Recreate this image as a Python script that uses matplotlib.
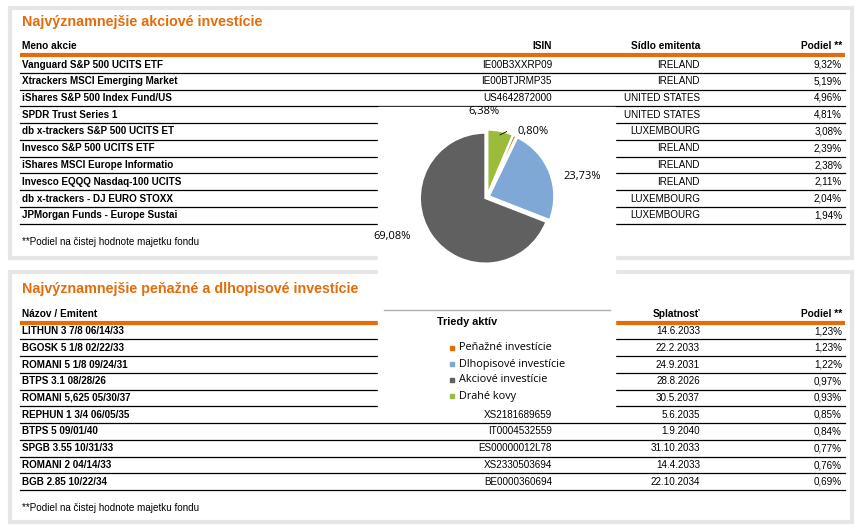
import matplotlib
matplotlib.use("Agg")
import matplotlib.pyplot as plt
from matplotlib.patches import Rectangle

plt.rcParams['font.family'] = ['Liberation Sans Narrow', 'Liberation Sans', 'DejaVu Sans']

ORANGE = "#e46c0a"

# top table
stock_names = ["Vanguard S&P 500 UCITS ETF", "Xtrackers MSCI Emerging Market", "iShares S&P 500 Index Fund/US",
               "SPDR Trust Series 1", "db x-trackers S&P 500 UCITS ET", "Invesco S&P 500 UCITS ETF",
               "iShares MSCI Europe Informatio", "Invesco EQQQ Nasdaq-100 UCITS", "db x-trackers - DJ EURO STOXX",
               "JPMorgan Funds - Europe Sustai"]
stock_isin = ["IE00B3XXRP09", "IE00BTJRMP35", "US4642872000", "", "", "", "", "", "", ""]
stock_seat = ["IRELAND", "IRELAND", "UNITED STATES", "UNITED STATES", "LUXEMBOURG", "IRELAND",
              "IRELAND", "IRELAND", "LUXEMBOURG", "LUXEMBOURG"]
stock_share = ["9,32%", "5,19%", "4,96%", "4,81%", "3,08%", "2,39%", "2,38%", "2,11%", "2,04%", "1,94%"]

# bottom table
bond_names = ["LITHUN 3 7/8 06/14/33", "BGOSK 5 1/8 02/22/33", "ROMANI 5 1/8 09/24/31", "BTPS 3.1 08/28/26",
              "ROMANI 5,625 05/30/37", "REPHUN 1 3/4 06/05/35", "BTPS 5 09/01/40", "SPGB 3.55 10/31/33",
              "ROMANI 2 04/14/33", "BGB 2.85 10/22/34"]
bond_isin = ["", "", "", "", "", "XS2181689659", "IT0004532559", "ES00000012L78", "XS2330503694", "BE0000360694"]
bond_maturity = ["14.6.2033", "22.2.2033", "24.9.2031", "28.8.2026", "30.5.2037", "5.6.2035",
                 "1.9.2040", "31.10.2033", "14.4.2033", "22.10.2034"]
bond_share = ["1,23%", "1,23%", "1,22%", "0,97%", "0,93%", "0,85%", "0,84%", "0,77%", "0,76%", "0,69%"]

# pie (clockwise from top)
asset_labels = ["Drahé kovy", "Peňažné investície", "Dlhopisové investície", "Akciové investície"]
asset_values = [6.38, 0.80, 23.73, 69.08]
asset_colors = ["#9bbb3b", ORANGE, "#7fa8d6", "#606060"]
legend_order = [1, 2, 3, 0]

fig = plt.figure(figsize=(8.62, 5.29), dpi=100)
ax = fig.add_axes([0, 0, 1, 1])
ax.set_xlim(0, 862)
ax.set_ylim(529, 0)
ax.axis("off")

# panel frames
for y0, y1 in [(8, 258), (272, 522)]:
    ax.add_patch(Rectangle((10, y0), 842, y1 - y0, fill=False, ec="#e6e6e6", lw=3))


def table(title, y_title, y_head, heads, cols, y_first, footer, y_foot):
    ax.text(22, y_title, title, color=ORANGE, fontsize=10.3, fontweight="bold", va="center",
            family=["Liberation Sans", "DejaVu Sans"])
    xs = [(22, "left"), (552, "right"), (700, "right"), (842, "right")]
    for (x, ha), h in zip(xs, heads):
        ax.text(x, y_head, h, fontsize=7.3, fontweight="bold", ha=ha, va="center")
    ax.plot([20, 845], [y_head + 9, y_head + 9], color=ORANGE, lw=3, solid_capstyle="butt")
    step = 16.75
    for i in range(len(cols[0])):
        y = y_first + i * step
        for j, ((x, ha), col) in enumerate(zip(xs, cols)):
            ax.text(x, y, col[i], fontsize=7.1, fontweight="bold" if j == 0 else "normal",
                    ha=ha, va="center")
        ax.plot([20, 845], [y + 8.3, y + 8.3], color="black", lw=0.9)
    ax.text(22, y_foot, footer, fontsize=7.1, va="center")


table("Najvýznamnejšie akciové investície", 22, 46, ["Meno akcie", "ISIN", "Sídlo emitenta", "Podiel **"],
      [stock_names, stock_isin, stock_seat, stock_share], 64.5, "**Podiel na čistej hodnote majetku fondu", 242)
table("Najvýznamnejšie peňažné a dlhopisové investície", 289, 314,
      ["Názov / Emitent", "ISIN", "Splatnosť", "Podiel **"],
      [bond_names, bond_isin, bond_maturity, bond_share], 331, "**Podiel na čistej hodnote majetku fondu", 508)

# white chart box over the tables
ax.add_patch(Rectangle((378, 107), 237, 300, color="white", zorder=5))
ax.plot([384, 610], [310, 310], color="#b0b0b0", lw=1, zorder=6)
ax.text(437, 322, "Triedy aktív", fontsize=7.8, fontweight="bold", va="center", zorder=6)
for k, idx in enumerate(legend_order):
    y = 348 + k * 16
    ax.plot(452, y, "s", ms=2.8, color=asset_colors[idx], zorder=6)
    ax.text(459, y, asset_labels[idx], fontsize=7.8, va="center", zorder=6,
            family=["Open Sans", "DejaVu Sans"])

pax = fig.add_axes([(487 - 70) / 862, 1 - (197 + 70) / 529, 140 / 862, 140 / 529], zorder=10)
labels = [f"{v:.2f}%".replace(".", ",") for v in asset_values]
wedges, texts = pax.pie(
    asset_values, colors=asset_colors, startangle=90, counterclock=False,
    explode=[0.03] * 4, wedgeprops=dict(edgecolor="white", linewidth=1.5),
    labels=labels, labeldistance=1.2,
    textprops=dict(fontsize=8, family=["Open Sans", "DejaVu Sans"], ha="center", va="center"))
texts[0].set_position((-0.05, 1.3))
texts[1].set_position((0.7, 1.0))
texts[2].set_position((1.45, 0.32))
texts[3].set_position((-1.45, -0.6))
pax.plot([0.2, 0.3], [0.95, 1.0], color="black", lw=0.6)
pax.set_xlim(-1.07, 1.07)
pax.set_ylim(-1.07, 1.07)
pax.set_aspect("equal")
pax.axis("off")

fig.savefig("out.png", dpi=100)
